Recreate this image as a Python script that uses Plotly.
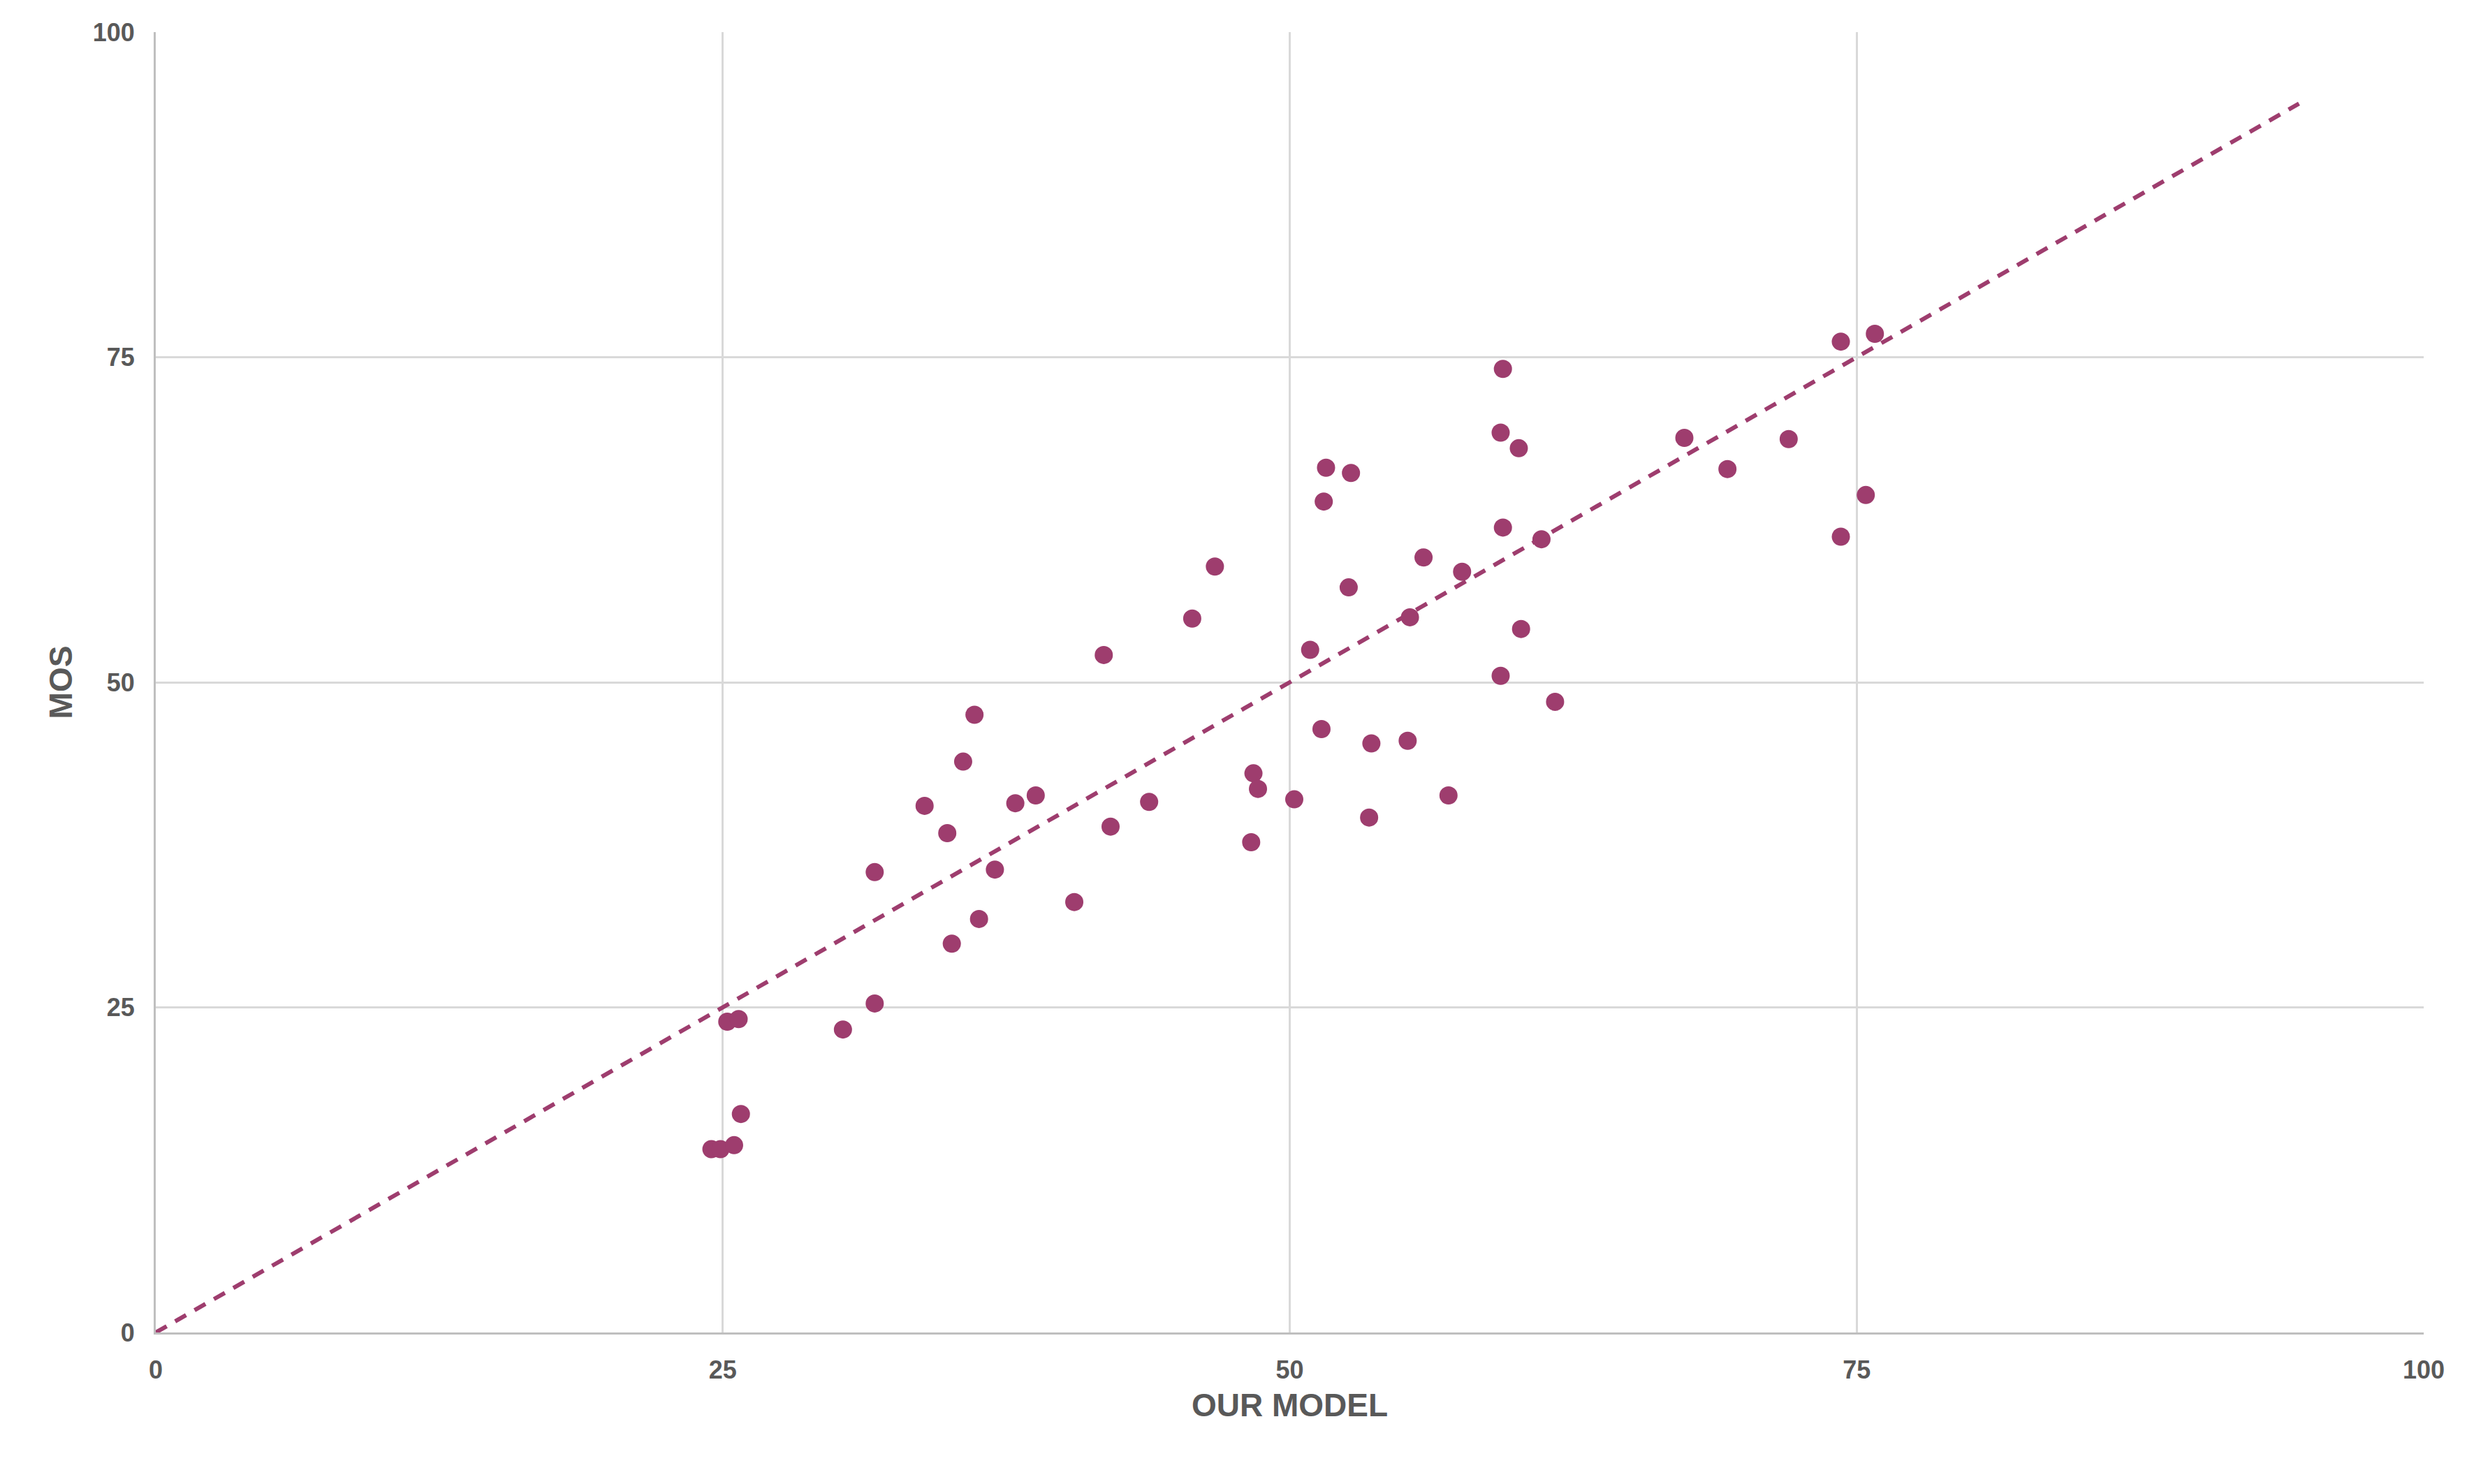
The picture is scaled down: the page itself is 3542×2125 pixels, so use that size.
import plotly.graph_objects as go

our_model = [24.5,24.9,25.5,25.8,25.2,25.7,30.3,31.7,31.7,33.9,34.9,35.1,35.6,36.1,36.3,37.0,37.9,38.8,40.5,41.8,42.1,43.8,45.7,46.7,48.3,48.4,48.6,50.2,50.9,51.4,51.5,51.6,52.6,52.7,53.6,53.5,55.2,55.3,55.9,57.0,57.6,59.3,59.4,59.3,59.4,60.1,60.2,61.1,61.7,67.4,69.3,72.0,74.3,74.3,75.4,75.8]
mos = [14.1,14.1,14.4,16.8,23.9,24.1,23.3,25.3,35.4,40.5,38.4,29.9,43.9,47.5,31.8,35.6,40.7,41.3,33.1,52.1,38.9,40.8,54.9,58.9,37.7,43.0,41.8,41.0,52.5,46.4,63.9,66.5,57.3,66.1,45.3,39.6,45.5,55.0,59.6,41.3,58.5,69.2,74.1,50.5,61.9,68.0,54.1,61.0,48.5,68.8,66.4,68.7,76.2,61.2,64.4,76.8]
line_x = [0, 94.5]
line_y = [0, 94.5]
ticks = [0, 25, 50, 75, 100]
tick_text = ["<b>%d</b>" % t for t in ticks]

color = "#9E3D6E"
fig = go.Figure()
fig.add_trace(go.Scatter(x=line_x, y=line_y, mode="lines",
                         line=dict(color=color, width=6, dash="18px,14px"), hoverinfo="skip"))
fig.add_trace(go.Scatter(x=our_model, y=mos, mode="markers",
                         marker=dict(color=color, size=26)))
axis_common = dict(range=[0, 100], tickvals=ticks, ticktext=tick_text, showgrid=True, gridcolor="#D9D9D9", gridwidth=3,
                   zeroline=False, showline=True, linecolor="#BFBFBF", linewidth=3,
                   tickfont=dict(size=36, color="#595959", family="Liberation Sans"),
                   title_font=dict(size=46, color="#595959", family="Liberation Sans"))
fig.update_xaxes(**axis_common, title_text="<b>OUR MODEL</b>", ticklabelstandoff=20)
fig.update_yaxes(**axis_common, title_text="<b>MOS</b>", ticklabelstandoff=20)
fig.update_layout(width=3542, height=2125, showlegend=False, plot_bgcolor="white", paper_bgcolor="white",
                  margin=dict(l=215, r=80, t=38, b=225))
fig.write_html("out.html")
